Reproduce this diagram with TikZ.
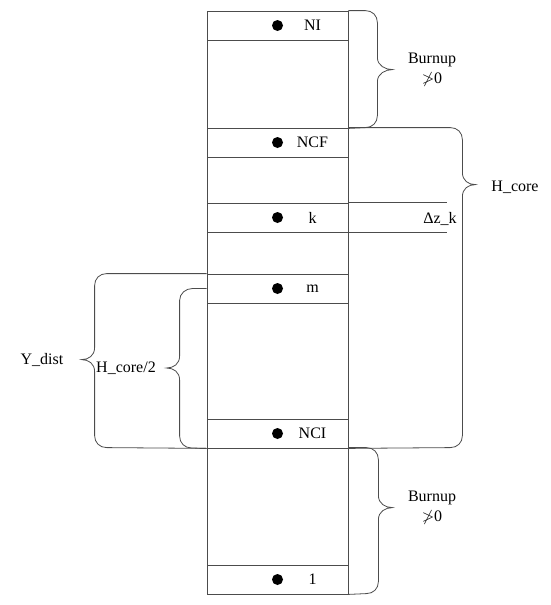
\documentclass[tikz,border=0pt]{standalone}
\usepackage{amssymb}
\usepackage{fontspec}
\setmainfont{Liberation Serif}
\usetikzlibrary{positioning}

\begin{document}
\begin{tikzpicture}[
    x=1pt, y=-1pt,
    cell/.style={draw=black!70, line width=0.8pt, minimum width=141pt, minimum height=29pt, inner sep=0pt},
    gap/.style={draw=black!70, line width=0.8pt, minimum width=141pt, inner sep=0pt},
    dot/.style={circle, fill=black, inner sep=0pt, minimum size=11pt},
    lbl/.style={font=\fontsize{16}{20}\selectfont, inner sep=1pt},
    wire/.style={draw=black!70, line width=0.8pt}
  ]
  \useasboundingbox (0,0) rectangle (550,605);

  % Column cells
  \foreach \n/\yc/\t in {ni/25.5/NI, ncf/142.5/NCF, k/217.5/k, m/288.5/m, nci/433.5/NCI, one/579.5/1} {
    \node[cell] (\n) at (277.5,\yc) {};
    \node[dot] (\n-dot) at (\n.center) {};
    \node[lbl] (\n-lbl) at ([xshift=35pt]\n.center) {\t};
  }
  \foreach \n/\yc/\h in {ga/84/88pt, gb/180/46pt, gc/253/42pt, gd/361/116pt, ge/506.5/117pt} {
    \node[gap, minimum height=\h] (\n) at (277.5,\yc) {};
  }

  % Braces on the right
  \draw[wire] (ni.north east) -- ++(17,0)
    .. controls +(7,0) and +(0,-7) .. ++(12,12) -- ++(0,35)
    .. controls +(0,8) and +(-7,0) .. ++(15,12)
    .. controls +(-7,0) and +(0,-8) .. ++(-15,12) -- ++(0,34)
    .. controls +(0,7) and +(7,0) .. ++(-12,12) -- (ga.south east);
  \draw[wire] (ncf.north east) -- ++(102,0)
    .. controls +(7,0) and +(0,-7) .. ++(12,12) -- ++(0,33)
    .. controls +(0,8) and +(-7,0) .. ++(13,12)
    .. controls +(-7,0) and +(0,-8) .. ++(-13,12) -- ++(0,239)
    .. controls +(0,7) and +(7,0) .. ++(-12,12) -- (nci.south east);
  \draw[wire] (ge.north east) -- ++(18,0)
    .. controls +(7,0) and +(0,-7) .. ++(12,12) -- ++(0,36)
    .. controls +(0,8) and +(-7,0) .. ++(14,12)
    .. controls +(-7,0) and +(0,-8) .. ++(-14,12) -- ++(0,62)
    .. controls +(0,7) and +(7,0) .. ++(-12,12) -- (one.south east);

  % Braces on the left
  \draw[wire] (m.north west) -- ++(-100,0)
    .. controls +(-7,0) and +(0,-7) .. ++(-12,12) -- ++(0,62)
    .. controls +(0,8) and +(7,0) .. ++(-13,12)
    .. controls +(7,0) and +(0,-8) .. ++(13,12) -- ++(0,64)
    .. controls +(0,7) and +(-7,0) .. ++(12,12) -- (nci.south west);
  \draw[wire] (m.west) -- ++(-14,0)
    .. controls +(-7,0) and +(0,-7) .. ++(-13,12) -- ++(0,55.5)
    .. controls +(0,8) and +(7,0) .. ++(-13,12)
    .. controls +(7,0) and +(0,-8) .. ++(13,12) -- ++(0,56)
    .. controls +(0,7) and +(-7,0) .. ++(12,12) -- (nci.south west);

  % Cell k extent
  \draw[wire] (k.north east) -- ++(99,0);
  \draw[wire] (k.south east) -- ++(99,0);

  % Labels
  \node[lbl, align=center] (bu-top) at (432,70) {Burnup\\$\ngtr$0};
  \node[lbl, align=center] (bu-bot) at (432,508) {Burnup\\$\ngtr$0};
  \node[lbl] (hcore) at (515,187) {H\_core};
  \node[lbl] (dzk) at (440,219) {Δz\_k};
  \node[lbl] (ydist) at (42,360) {Y\_dist};
  \node[lbl] (hhalf) at (126,368) {H\_core/2};
\end{tikzpicture}
\end{document}
